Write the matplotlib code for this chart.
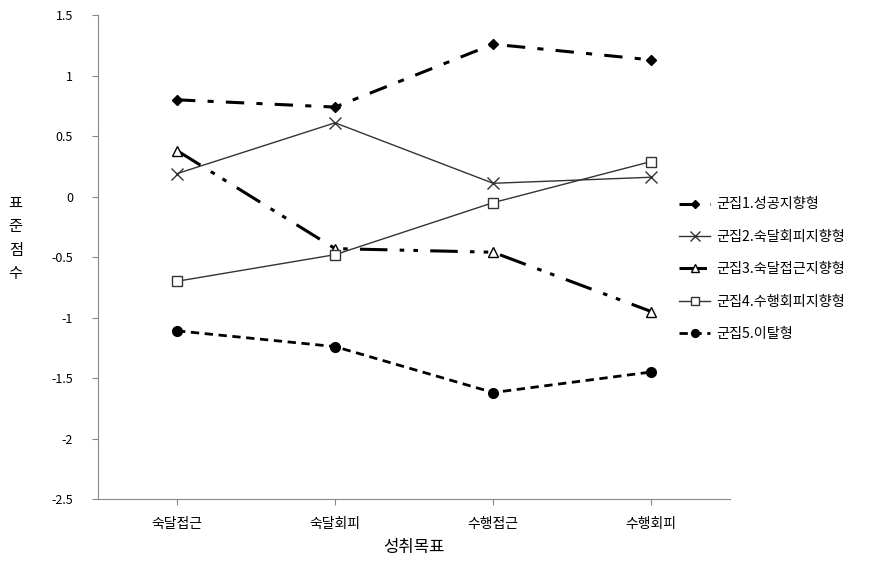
import matplotlib
matplotlib.use("Agg")
import matplotlib.pyplot as plt

plt.rcParams['font.family'] = ['Noto Sans CJK KR', 'DejaVu Sans']

goals = ["숙달접근", "숙달회피", "수행접근", "수행회피"]
cluster1 = [0.80, 0.74, 1.26, 1.13]
cluster2 = [0.19, 0.61, 0.11, 0.16]
cluster3 = [0.38, -0.43, -0.46, -0.95]
cluster4 = [-0.70, -0.48, -0.05, 0.29]
cluster5 = [-1.11, -1.24, -1.62, -1.45]
names = ["군집1.성공지향형", "군집2.숙달회피지향형", "군집3.숙달접근지향형",
         "군집4.수행회피지향형", "군집5.이탈형"]
yticks = [1.5, 1, 0.5, 0, -0.5, -1, -1.5, -2, -2.5]

fig = plt.figure(figsize=(8.72, 5.61), dpi=100)
ax = fig.add_axes([0.1124, 0.1105, 0.725, 0.8625])
x = range(len(goals))

ax.plot(x, cluster1, color="black", lw=2.2, dashes=(6, 4, 2, 4),
        marker="D", ms=5, label=names[0])
ax.plot(x, cluster2, color="#333333", lw=1.0, marker="x", ms=9,
        mew=1.0, label=names[1])
ax.plot(x, cluster3, color="black", lw=2.2, dashes=(9, 4, 1.5, 3, 1.5, 4),
        marker="^", ms=7, mfc="white", mew=1.0, label=names[2])
ax.plot(x, cluster4, color="#333333", lw=1.0, marker="s", ms=7,
        mfc="white", mew=1.0, label=names[3])
ax.plot(x, cluster5, color="black", lw=2.0, dashes=(3, 2),
        marker="o", ms=7, label=names[4])

ax.set_xlim(-0.5, 3.5)
ax.set_ylim(-2.5, 1.5)
ax.set_yticks(yticks)
ax.set_yticklabels([f"{v:g}" for v in yticks], fontsize=9)
ax.set_xticks(list(x))
ax.set_xticklabels(goals, fontsize=10)
ax.tick_params(axis="x", length=4, color="#888888", pad=9)
ax.tick_params(axis="y", length=4, color="#888888", pad=14)
for s in ["top", "right"]:
    ax.spines[s].set_visible(False)
for s in ["left", "bottom"]:
    ax.spines[s].set_color("#888888")

ax.set_xlabel("성취목표", fontsize=12, labelpad=6)
fig.text(0.018, 0.575, "표\n준\n점\n수", fontsize=11, ha="center",
         va="center", linespacing=1.5)

fig.legend(loc="upper left", bbox_to_anchor=(0.779, 0.648), frameon=False,
           fontsize=10.2, handlelength=2.2, labelspacing=1.3,
           handletextpad=0.4, borderpad=0, borderaxespad=0, markerscale=0.8)

fig.savefig("out.png", dpi=100)
